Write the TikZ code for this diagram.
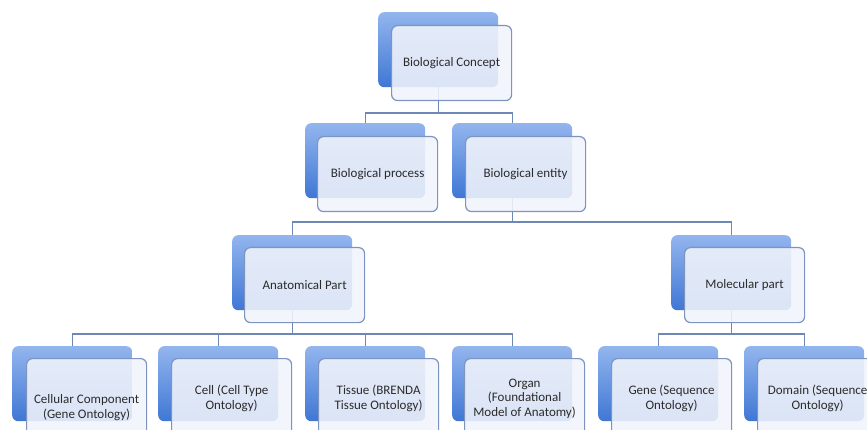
\documentclass[tikz,border=0pt]{standalone}
\usepackage{fontspec}
\setmainfont{Carlito}
\usetikzlibrary{backgrounds}
\definecolor{blueTop}{HTML}{93B5EE}
\definecolor{blueBot}{HTML}{3F77D4}
\definecolor{boxFill}{HTML}{F1F4FB}
\definecolor{boxLine}{HTML}{7C94BF}
\definecolor{connLine}{HTML}{6D88B4}
\definecolor{txt}{HTML}{2B2B2B}
\tikzset{
  bluebox/.style={anchor=north west, rounded corners=6pt, minimum width=120pt, minimum height=75pt, inner sep=0pt, top color=blueTop, bottom color=blueBot, draw=none},
  whitebox/.style={anchor=north west, rounded corners=6pt, minimum width=120pt, minimum height=75pt, inner sep=1pt, fill=boxFill, fill opacity=0.88, text opacity=1, draw=boxLine, line width=1.2pt, align=center, text=txt, font=\fontsize{13}{14.5}\selectfont},
  tallbox/.style={whitebox, minimum height=80pt},
  conn/.style={draw=connLine, line width=1.2pt}
}
\begin{document}
\begin{tikzpicture}[x=1pt,y=-1pt]
\useasboundingbox (0,0) rectangle (867,430);
\clip (0,0) rectangle (867,430);
% level 1
\node[bluebox] (conceptB) at (378,12) {};
\node[whitebox] (concept) at (391,25) {Biological Concept};
% level 2
\node[bluebox] (processB) at (305,123) {};
\node[whitebox] (process) at (317,136) {Biological process};
\node[bluebox] (entityB) at (452,123) {};
\node[whitebox] (entity) at (465,136) {Biological entity};
% level 3
\node[bluebox] (anatB) at (232,235) {};
\node[whitebox] (anat) at (244,247) {Anatomical Part};
\node[bluebox] (molecB) at (671,235) {};
\node[whitebox] (molec) at (684,247) {Molecular part};
% level 4
\node[bluebox] (cellcB) at (12,346) {};
\node[whitebox, minimum height=98pt] (cellc) at (26,358) {Cellular Component\\(Gene Ontology)};
\node[bluebox] (cellB) at (158,346) {};
\node[tallbox] (cell) at (171,358) {Cell (Cell Type\\Ontology)};
\node[bluebox] (tissueB) at (305,346) {};
\node[tallbox] (tissue) at (318,358) {Tissue (BRENDA\\Tissue Ontology)};
\node[bluebox] (organB) at (452,346) {};
\node[tallbox] (organ) at (464,358) {Organ\\(Foundational\\Model of Anatomy)};
\node[bluebox] (geneB) at (598,346) {};
\node[tallbox] (gene) at (611,358) {Gene (Sequence\\Ontology)};
\node[bluebox] (domainB) at (744,346) {};
\node[tallbox] (domain) at (757,358) {Domain (Sequence\\Ontology)};
% background and connectors
\begin{scope}[on background layer]
\fill[white] (0,0) rectangle (867,430);
\draw[conn] (conceptB.south) |- ([yshift=10pt]processB.north) -- (processB.north);
\draw[conn] (conceptB.south) |- ([yshift=10pt]entityB.north) -- (entityB.north);
\draw[conn] (entityB.south) |- ([yshift=13pt]anatB.north) -- (anatB.north);
\draw[conn] (entityB.south) |- ([yshift=13pt]molecB.north) -- (molecB.north);
\draw[conn] (anatB.south) |- ([yshift=12pt]cellcB.north) -- (cellcB.north);
\draw[conn] (anatB.south) |- ([yshift=12pt]cellB.north) -- (cellB.north);
\draw[conn] (anatB.south) |- ([yshift=12pt]tissueB.north) -- (tissueB.north);
\draw[conn] (anatB.south) |- ([yshift=12pt]organB.north) -- (organB.north);
\draw[conn] (molecB.south) |- ([yshift=12pt]geneB.north) -- (geneB.north);
\draw[conn] (molecB.south) |- ([yshift=12pt]domainB.north) -- (domainB.north);
\end{scope}
\end{tikzpicture}
\end{document}
